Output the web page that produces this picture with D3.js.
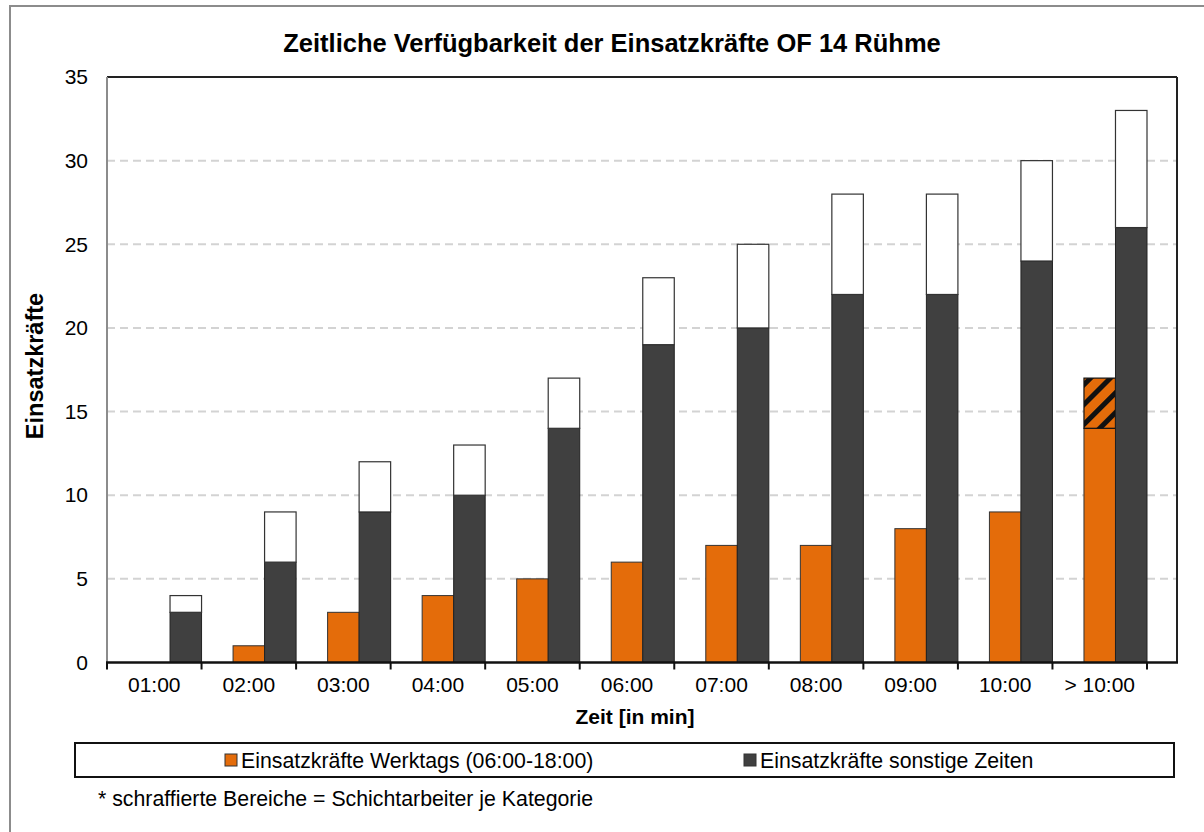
<!DOCTYPE html>
<html><head><meta charset="utf-8">
<script src="https://cdn.jsdelivr.net/npm/d3@7"></script>
<style>body{margin:0;background:#fff}svg{display:block}text{font-family:"Liberation Sans",Arial,sans-serif}</style>
</head><body>
<svg id="c" width="1204" height="832"></svg>
<script>
const categories = ["01:00","02:00","03:00","04:00","05:00","06:00","07:00","08:00","09:00","10:00","> 10:00"];
const werktags = [0,1,3,4,5,6,7,7,8,9,14];
const werktagsSchicht = [0,0,0,0,0,0,0,0,0,0,3];
const sonstige = [3,6,9,10,14,19,20,22,22,24,26];
const sonstigeSchicht = [1,3,3,3,3,4,5,6,6,6,7];
const yTicks = [0,5,10,15,20,25,30,35];
const seriesNames = ["Einsatzkräfte Werktags (06:00-18:00)","Einsatzkräfte sonstige Zeiten"];

const ORANGE = "#e46c0a", DARK = "#404040";
const svg = d3.select("#c");
const defs = svg.append("defs");
const pat = defs.append("pattern").attr("id","hatch").attr("patternUnits","userSpaceOnUse")
  .attr("width",14).attr("height",14).attr("patternTransform","rotate(45)");
pat.append("rect").attr("width",14).attr("height",14).attr("fill",ORANGE);
pat.append("rect").attr("x",0).attr("width",5).attr("height",14).attr("fill","#111");

// outer frame
svg.append("rect").attr("x",10).attr("y",6).attr("width",1230).attr("height",860)
  .attr("fill","none").attr("stroke","#8c8c8c").attr("stroke-width",2);

const L=107, R=1177, T=77, B=662.5, catEnd=1147;
const x = d3.scaleBand().domain(categories).range([L,catEnd]).paddingInner(0).paddingOuter(0);
const y = d3.scaleLinear().domain([0,35]).range([B,T]);
const bw = x.bandwidth()/3;

// gridlines
svg.append("g").selectAll("line").data(yTicks.filter(d=>d>0&&d<35)).join("line")
  .attr("x1",L).attr("x2",R).attr("y1",d=>y(d)).attr("y2",d=>y(d))
  .attr("stroke","#d3d3d3").attr("stroke-width",2).attr("stroke-dasharray","8,5");

// bars
const g = svg.append("g");
const idx = d3.range(categories.length);
g.selectAll(".o").data(idx.filter(i=>werktags[i]>0)).join("rect")
  .attr("x",i=>x(categories[i])+bw).attr("width",bw)
  .attr("y",i=>y(werktags[i])).attr("height",i=>y(0)-y(werktags[i]))
  .attr("fill",ORANGE).attr("stroke","#333").attr("stroke-width",1);
g.selectAll(".oh").data(idx.filter(i=>werktagsSchicht[i]>0)).join("rect")
  .attr("x",i=>x(categories[i])+bw).attr("width",bw)
  .attr("y",i=>y(werktags[i]+werktagsSchicht[i])).attr("height",i=>y(werktags[i])-y(werktags[i]+werktagsSchicht[i]))
  .attr("fill","url(#hatch)").attr("stroke","#111").attr("stroke-width",1.2);
g.selectAll(".d").data(idx).join("rect")
  .attr("x",i=>x(categories[i])+2*bw).attr("width",bw)
  .attr("y",i=>y(sonstige[i])).attr("height",i=>y(0)-y(sonstige[i]))
  .attr("fill",DARK).attr("stroke","#222").attr("stroke-width",1);
g.selectAll(".w").data(idx).join("rect")
  .attr("x",i=>x(categories[i])+2*bw).attr("width",bw)
  .attr("y",i=>y(sonstige[i]+sonstigeSchicht[i])).attr("height",i=>y(sonstige[i])-y(sonstige[i]+sonstigeSchicht[i]))
  .attr("fill","#fff").attr("stroke","#333").attr("stroke-width",1.2);

// frame lines
svg.append("line").attr("x1",L).attr("x2",R).attr("y1",T).attr("y2",T).attr("stroke","#222").attr("stroke-width",2);
svg.append("line").attr("x1",R).attr("x2",R).attr("y1",T).attr("y2",B).attr("stroke","#222").attr("stroke-width",2);
svg.append("line").attr("x1",L).attr("x2",L).attr("y1",T).attr("y2",B).attr("stroke","#8c8c8c").attr("stroke-width",2);

// y axis labels
const ya = svg.append("g").attr("transform",`translate(${L},0)`)
  .call(d3.axisLeft(y).tickValues(yTicks).tickSize(0).tickPadding(19));
ya.select(".domain").remove();
ya.selectAll("text").attr("font-size",21).attr("fill","#000").attr("font-family","Liberation Sans, Arial, sans-serif");

// x axis
const xa = svg.append("g").attr("transform",`translate(0,${B})`)
  .call(d3.axisBottom(x).tickSize(0).tickPadding(15));
xa.select(".domain").remove();
xa.selectAll("text").attr("font-size",21).attr("fill","#000").attr("font-family","Liberation Sans, Arial, sans-serif");
svg.append("line").attr("x1",L-1).attr("x2",R+1).attr("y1",B).attr("y2",B).attr("stroke","#111").attr("stroke-width",2.5);
const bounds = categories.map(c=>x(c)).concat([catEnd]);
svg.append("g").selectAll("line").data(bounds).join("line")
  .attr("x1",d=>d).attr("x2",d=>d).attr("y1",B).attr("y2",B+7).attr("stroke","#111").attr("stroke-width",2);

// titles
svg.append("text").attr("x",612).attr("y",52).attr("text-anchor","middle")
  .attr("font-size",25.5).attr("font-weight","bold").text("Zeitliche Verfügbarkeit der Einsatzkräfte OF 14 Rühme");
svg.append("text").attr("x",635).attr("y",724).attr("text-anchor","middle")
  .attr("font-size",21).attr("font-weight","bold").text("Zeit [in min]");
svg.append("text").attr("transform","translate(43,366) rotate(-90)").attr("text-anchor","middle")
  .attr("font-size",23.5).attr("font-weight","bold").text("Einsatzkräfte");

// legend
svg.append("rect").attr("x",75).attr("y",743).attr("width",1099).attr("height",34)
  .attr("fill","#fff").attr("stroke","#111").attr("stroke-width",2);
const legX = [225, 744], legC = [ORANGE, DARK];
seriesNames.forEach((n,i)=>{
  svg.append("rect").attr("x",legX[i]).attr("y",754).attr("width",12).attr("height",12)
    .attr("fill",legC[i]).attr("stroke","#333").attr("stroke-width",1);
  svg.append("text").attr("x",legX[i]+16).attr("y",768).attr("font-size",21.3).text(n);
});

// footnote
svg.append("text").attr("x",98).attr("y",806).attr("font-size",21.3)
  .text("* schraffierte Bereiche = Schichtarbeiter je Kategorie");
</script>
</body></html>
